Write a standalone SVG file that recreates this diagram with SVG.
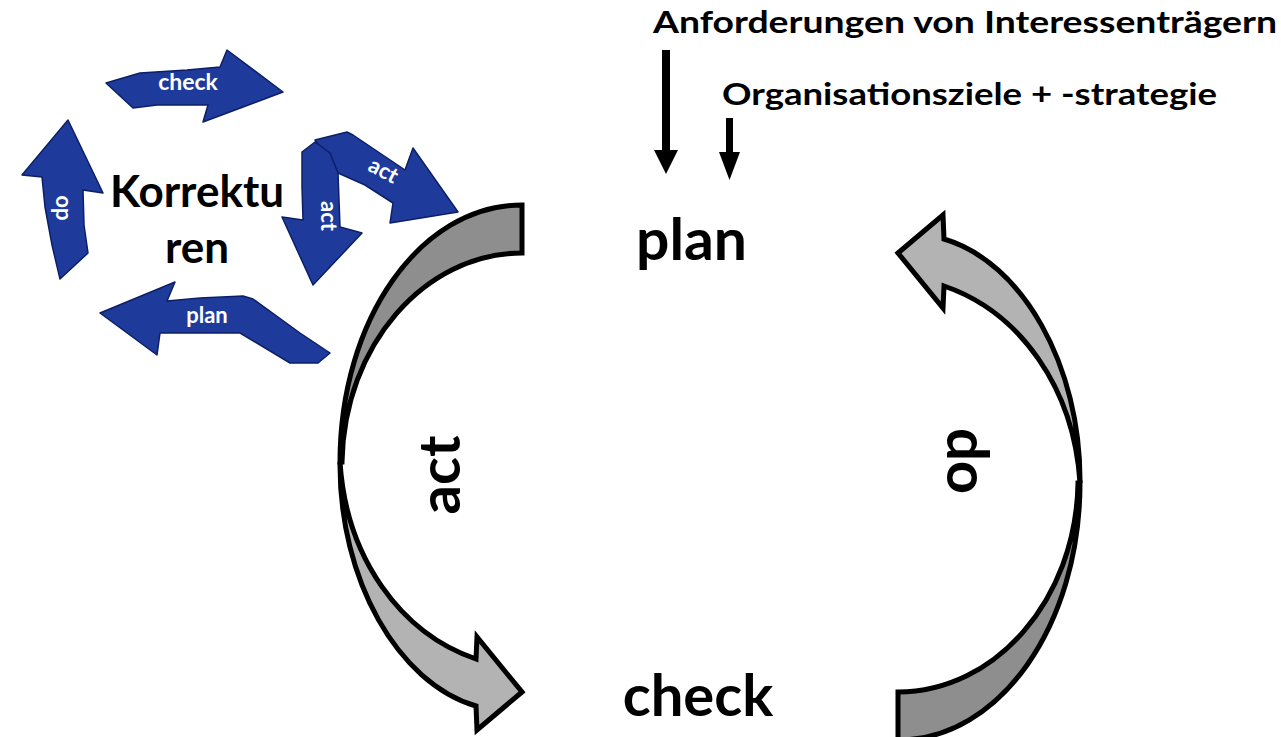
<svg xmlns="http://www.w3.org/2000/svg" width="1281" height="737" viewBox="0 0 1281 737">
<style>
.t{font-family:Lato,"Open Sans","Liberation Sans",sans-serif;font-weight:bold;fill:#000}
.w{font-family:Lato,"Open Sans","Liberation Sans",sans-serif;font-weight:bold;fill:#fff}
.blue{fill:#1e3b9c;stroke:#0c1f66;stroke-width:1.5;stroke-linejoin:round}
.light{fill:#b3b3b3;stroke:#000;stroke-width:5;stroke-linejoin:miter}
.dark{fill:#8e8e8e;stroke:#000;stroke-width:5;stroke-linejoin:miter}
</style>
<defs>
<g id="curved">
<path class="dark" d="M1080,483 C1080,625 1000,740 898,740 L898,692 C995,692 1076,600 1078,483 Z"/>
<path class="light" d="M898,253 L943,215 L944,239 C1022,262 1081,365 1080,483 C1074,388 1020,312 944,286 L943,308 Z"/>
</g>
</defs>
<rect width="1281" height="737" fill="#fff"/>

<g id="connectors">
<g id="arrow-do"><use href="#curved"/></g>
<g id="arrow-act"><use href="#curved" transform="rotate(180 710 472.5)"/></g>
<polygon points="662,50 670,50 670,150 678,150 666,174 654,150 662,150" fill="#000"/>
<polygon points="726,118 733,118 733,152 740,152 729.5,180 719,152 726,152" fill="#000"/>
</g>

<g id="node-plan"><text class="t" x="636" y="260" font-size="58" textLength="111" lengthAdjust="spacingAndGlyphs">plan</text></g>
<g id="node-check"><text class="t" x="698" y="716" font-size="58" text-anchor="middle">check</text></g>
<g id="label-act"><text class="t" transform="translate(460 475) rotate(-90)" font-size="58" text-anchor="middle">act</text></g>
<g id="label-do"><text class="t" transform="translate(947 461) rotate(90)" font-size="58" text-anchor="middle">do</text></g>
<g id="node-anforderungen"><text class="t" x="653" y="33" font-size="31" textLength="624" lengthAdjust="spacingAndGlyphs">Anforderungen von Interessenträgern</text></g>
<g id="node-organisationsziele"><text class="t" x="722" y="105" font-size="30" textLength="495" lengthAdjust="spacingAndGlyphs">Organisationsziele + -strategie</text></g>

<g id="node-korrekturen">
<path class="blue" d="M106,83 L140,73 L187,70 L220,67 L227,50 L283,92 L203,122 L208,105 L157,105 L133,108 Z"/>
<text class="w" x="188" y="90" font-size="23" text-anchor="middle">check</text>
<path class="blue" d="M68,120 L103,193 L83,190 L84,225 L88,253 L60,279 L52,245 L45,207 L42,177 L22,175 Z"/>
<text class="w" transform="translate(68 208) rotate(-90)" font-size="22" text-anchor="middle">do</text>
<path class="blue" d="M315,140 L347,132 L353,135 L405,170 L413,148 L458,212 L390,223 L393,203 L365,185 L338,173 Z"/>
<text class="w" transform="translate(380 177) rotate(28)" font-size="22" text-anchor="middle">act</text>
<path class="blue" d="M302,152 L315,142 L330,153 L338,173 L340,227 L362,233 L313,285 L282,217 L303,220 L302,187 Z"/>
<text class="w" transform="translate(321 216) rotate(90)" font-size="22" text-anchor="middle">act</text>
<path class="blue" d="M100,313 L175,282 L167,301 L200,298 L243,296 L253,299 L300,333 L330,353 L318,363 L290,363 L240,333 L200,333 L160,333 L157,355 Z"/>
<text class="w" x="207" y="323" font-size="22" text-anchor="middle">plan</text>
<text class="t" x="197" y="207" font-size="44" text-anchor="middle">Korrektu</text>
<text class="t" x="197" y="263" font-size="44" text-anchor="middle">ren</text>
</g>
</svg>
